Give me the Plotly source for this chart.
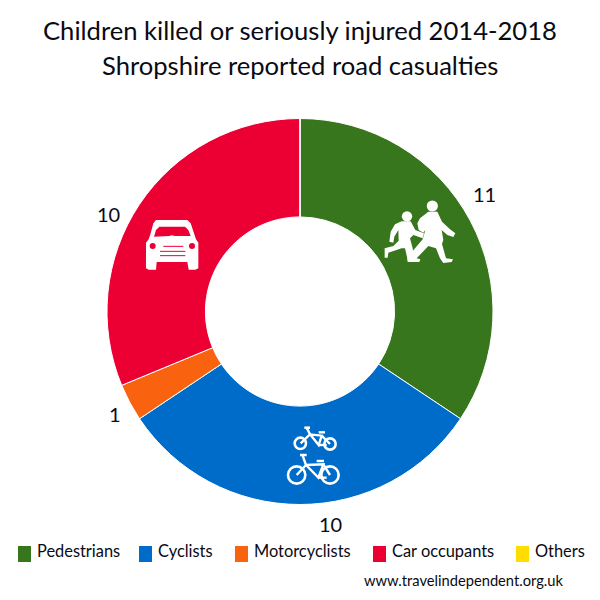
import plotly.graph_objects as go

categories = ["Pedestrians", "Cyclists", "Motorcyclists", "Car occupants", "Others"]
values = [11, 10, 1, 10, 0]
colors = ["#38761D", "#006CC9", "#F9620F", "#EC0033", "#FFDD00"]
title_lines = ["Children killed or seriously injured 2014-2018", "Shropshire reported road casualties"]
source = "www.travelindependent.org.uk"
FONT = "Lato, 'Open Sans', sans-serif"
INK = "#0a0a14"
W = H = 600.0

def px(x, y):
    return x / W, 1 - y / H

def zoom_pts(pts, ox, oy):
    return [(ox + a / 3.0, oy + b / 3.0) for a, b in pts]

def poly(pts, close=True):
    out = []
    for i, (x, y) in enumerate(pts):
        u, v = px(x, y)
        out.append(("M" if i == 0 else "L") + f"{u:.5f},{v:.5f}")
    return "".join(out) + ("Z" if close else "")

shapes = []

def fill(pts, color="white"):
    shapes.append(dict(type="path", xref="paper", yref="paper", path=poly(pts), fillcolor=color, line=dict(width=0)))

def stroke(pts, width, color="white"):
    shapes.append(dict(type="path", xref="paper", yref="paper", path=poly(pts, False), line=dict(color=color, width=width)))

def circle(cx, cy, r, fillc="white", line=None, width=0):
    x0, y0 = px(cx - r, cy - r)
    x1, y1 = px(cx + r, cy + r)
    shapes.append(dict(type="circle", xref="paper", yref="paper", x0=x0, x1=x1, y0=y0, y1=y1,
                       fillcolor=fillc, line=dict(color=line or fillc, width=width)))

# pedestrians icon
o = (360, 180)
circle(360 + 217 / 3, 180 + 78 / 3, 5.6)
circle(360 + 141 / 3, 180 + 109 / 3, 5.2)
fill(zoom_pts([(205, 95), (232, 95), (246, 125), (270, 148), (286, 160), (280, 171), (262, 165), (245, 150),
               (250, 180), (246, 192), (258, 235), (279, 238), (275, 246), (250, 249), (240, 235), (228, 205),
               (205, 198), (170, 235), (181, 238), (178, 246), (143, 246), (142, 235), (148, 225), (188, 178),
               (196, 150), (190, 158), (176, 150), (172, 130), (180, 115)], *o))
fill(zoom_pts([(125, 124), (152, 124), (166, 150), (192, 160), (188, 175), (160, 165), (150, 175), (158, 205),
               (162, 242), (144, 244), (135, 205), (125, 205), (85, 218), (83, 233), (74, 233), (74, 205),
               (100, 198), (116, 182), (115, 150), (103, 170), (100, 188), (88, 185), (92, 155), (105, 133)], *o))

# car icon
o = (130, 200)
fill(zoom_pts([(78, 60), (172, 60), (182, 70), (192, 100), (198, 118), (205, 128), (205, 205), (196, 209), (176, 209),
               (172, 186), (80, 186), (78, 209), (56, 209), (48, 205), (48, 128), (56, 118), (62, 100), (70, 70)], *o))
fill(zoom_pts([(88, 80), (165, 80), (175, 90), (182, 108), (135, 108), (125, 106), (118, 108), (72, 110), (78, 90)], *o), "#EC0033")
circle(130 + 68 / 3, 200 + 138 / 3, 3.0, "#EC0033")
circle(130 + 186 / 3, 200 + 138 / 3, 3.0, "#EC0033")
stroke(zoom_pts([(100, 139), (160, 139)], *o), 1, "#EC0033")
stroke(zoom_pts([(90, 154), (166, 154)], *o), 1, "#EC0033")
stroke(zoom_pts([(90, 167), (166, 167)], *o), 1, "#EC0033")

# bicycles icon
o = (270, 415)
def bike(w1, w2, r, saddle, lines):
    for cx, cy in (w1, w2):
        circle(o[0] + cx / 3, o[1] + cy / 3, r / 3, "rgba(0,0,0,0)", "white", 2.6)
    stroke(zoom_pts(saddle, *o), 2.5)
    for seg in lines:
        stroke(zoom_pts(seg, *o), 2.4)
bike((91, 85), (180, 87), 17, [(103, 38), (120, 38)],
     [[(110, 38), (120, 58), (92, 85)], [(120, 58), (155, 62), (146, 90), (120, 58)], [(146, 52), (165, 52)],
      [(155, 62), (180, 87)], [(146, 90), (170, 90)]])
bike((80, 180), (180, 180), 26, [(90, 120), (110, 120)],
     [[(98, 122), (108, 150), (80, 180)], [(108, 150), (160, 148), (145, 188), (108, 150)], [(140, 138), (162, 138)],
      [(160, 148), (180, 180)], [(145, 188), (170, 188)]])

annotations = []

def label(x, y, text, size, anchor="center"):
    u, v = px(x, y)
    annotations.append(dict(x=u, y=v, xref="paper", yref="paper", text=text, showarrow=False,
                            xanchor=anchor, yanchor="middle", font=dict(family=FONT, size=size, color=INK)))

# legend
swatch_x = [18, 139, 235, 373, 516]
for xpos, name, col in zip(swatch_x, categories, colors):
    x0, y0 = px(xpos, 546)
    x1, y1 = px(xpos + 13, 562)
    shapes.append(dict(type="rect", xref="paper", yref="paper", x0=x0, x1=x1, y0=y0, y1=y1, fillcolor=col, line=dict(width=0)))
    label(xpos + 17, 550, name, 16.4, "left")

# value labels
label_pos = [(484, 194), (330, 524), (115, 414), (108, 214)]
for (x, y), val in zip(label_pos, values):
    label(x, y, str(val), 20)

# titles
for y, line in zip((30, 65), title_lines):
    label(300, y, line, 25.6)
label(565, 580, source, 14.7, "right")

fig = go.Figure(go.Pie(
    labels=categories, values=values, sort=False, direction="clockwise", rotation=0, hole=0.49,
    textinfo="none", hoverinfo="label+value",
    marker=dict(colors=colors, line=dict(color="white", width=1)),
    domain=dict(x=[107 / W, 493 / W], y=[1 - 504.5 / H, 1 - 118.5 / H]),
))
fig.update_layout(width=600, height=600, margin=dict(l=0, r=0, t=0, b=0), showlegend=False,
                  paper_bgcolor="white", plot_bgcolor="white", shapes=shapes, annotations=annotations)
fig.write_html("out.html", config=dict(displayModeBar=False),
               post_script="document.body.style.margin='0';document.documentElement.style.overflow='hidden';")
